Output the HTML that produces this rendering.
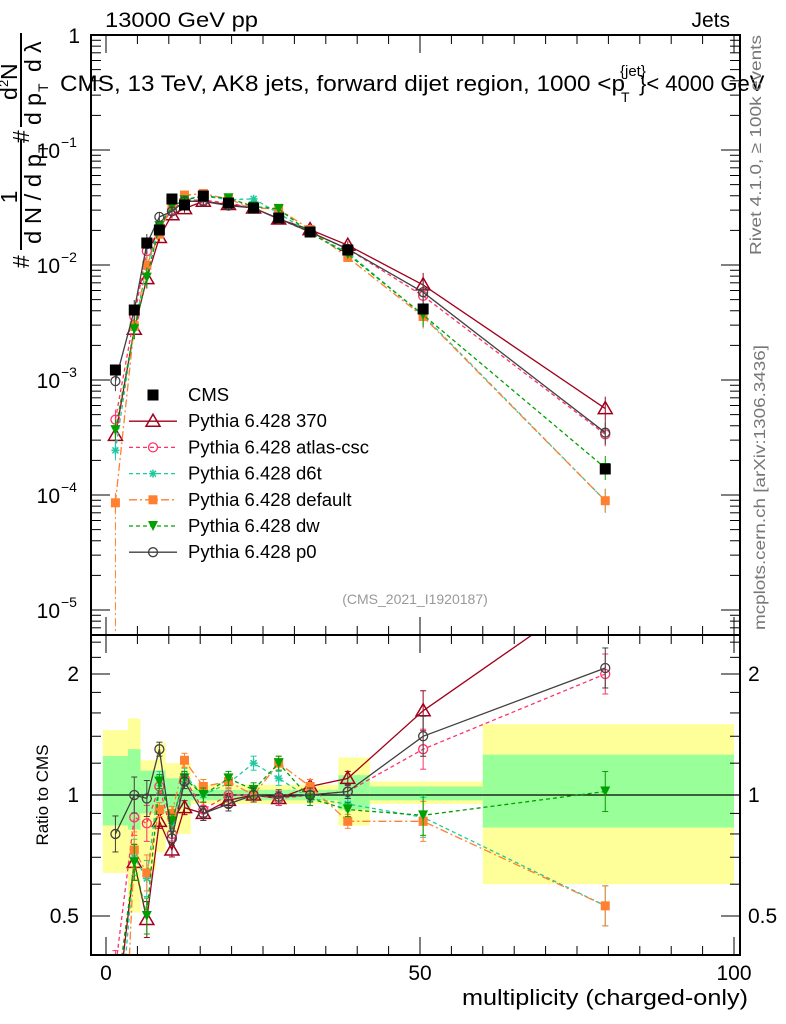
<!DOCTYPE html>
<html><head><meta charset="utf-8"><style>
html,body{margin:0;background:#fff;overflow:hidden;width:786px;height:1024px}
svg{font-family:"Liberation Sans",sans-serif;display:block}
</style></head><body>
<svg id="s" width="786" height="1024" xmlns="http://www.w3.org/2000/svg"></svg>
<script>
const S=document.getElementById('s');let h='';
const X=v=>106+v*6.28;
const YM=v=>35-115*Math.log10(v);
const YR=r=>795-402*Math.log10(r);
const xs=[1.5,4.5,6.5,8.5,10.5,12.5,15.5,19.5,23.5,27.5,32.5,38.5,50.5,79.5];
const cpx=[370,310,243,230,199,205,196,203,208,218,232,250,309,469];
const cms=cpx.map(p=>Math.pow(10,-(p-35)/115));
const models=[
{n:'370',c:'#a0001c',d:'',m:'tri',r:[0.27,0.68,0.49,0.86,0.73,0.93,0.9,0.97,1.0,0.98,1.05,1.1,1.62,3.35]},
{n:'atlas-csc',c:'#ff3366',d:'4,3',m:'circ',r:[0.37,0.88,0.85,1.05,0.8,1.1,0.92,1.0,1.0,0.98,1.0,1.02,1.3,2.0]},
{n:'d6t',c:'#20c8a0',d:'4,3',m:'star',r:[0.2,0.7,0.62,1.1,0.85,1.12,1.0,1.07,1.2,1.1,0.98,0.95,0.88,0.53]},
{n:'default',c:'#ff8030',d:'8,3,2,3',m:'sq',r:[0.07,0.73,0.64,0.92,0.9,1.22,1.05,1.08,1.0,1.2,1.05,0.86,0.86,0.53]},
{n:'dw',c:'#00a000',d:'4,3',m:'tdn',r:[0.3,0.68,0.5,1.08,0.86,1.1,1.0,1.1,1.03,1.2,0.98,0.92,0.89,1.02]},
{n:'p0',c:'#404040',d:'',m:'circ',r:[0.8,1.0,0.98,1.3,0.78,1.08,0.9,0.95,1.0,0.99,1.0,1.02,1.4,2.07]}];
function mk(t,x,y,c){
 if(t=='tri')return `<polygon points="${x},${y-7} ${x-7},${y+5} ${x+7},${y+5}" fill="none" stroke="${c}" stroke-width="1.5"/>`;
 if(t=='circ')return `<circle cx="${x}" cy="${y}" r="4.5" fill="none" stroke="${c}" stroke-width="1.3"/>`;
 if(t=='sq')return `<rect x="${x-4.5}" y="${y-4.5}" width="9" height="9" fill="${c}"/>`;
 if(t=='tdn')return `<polygon points="${x-5},${y-5} ${x+5},${y-5} ${x},${y+5}" fill="${c}"/>`;
 if(t=='star')return `<g stroke="${c}" stroke-width="1.5"><line x1="${x-4}" y1="${y}" x2="${x+4}" y2="${y}"/><line x1="${x}" y1="${y-4}" x2="${x}" y2="${y+4}"/><line x1="${x-3}" y1="${y-3}" x2="${x+3}" y2="${y+3}"/><line x1="${x-3}" y1="${y+3}" x2="${x+3}" y2="${y-3}"/></g>`;
 if(t=='bsq')return `<rect x="${x-5.5}" y="${y-5.5}" width="11" height="11" fill="#000"/>`;}
const bands=[[-0.5,3.5,0.64,1.45,0.84,1.25],[3.5,5.5,0.51,1.55,0.82,1.3],[5.5,8,0.65,1.22,0.9,1.15],[8,9.5,0.72,1.35,0.9,1.15],[9.5,13.5,0.8,1.2,0.93,1.1],[13.5,37,0.95,1.06,0.97,1.03],[37,42,0.84,1.24,0.92,1.12],[42,60,0.95,1.08,0.97,1.05],[60,100,0.6,1.5,0.83,1.26]];
for(const b of bands){h+=`<rect x="${X(b[0])}" y="${YR(b[3])}" width="${X(b[1])-X(b[0])}" height="${YR(b[2])-YR(b[3])}" fill="#ffff99"/>`;
 h+=`<rect x="${X(b[0])}" y="${YR(b[5])}" width="${X(b[1])-X(b[0])}" height="${YR(b[4])-YR(b[5])}" fill="#99ff99"/>`;}
h+=`<line x1="91" y1="795" x2="740" y2="795" stroke="#000" stroke-width="1.2"/>`;
h+=`<defs><clipPath id="cm"><rect x="91" y="35" width="649" height="600"/></clipPath><clipPath id="cr"><rect x="91" y="635" width="649" height="320"/></clipPath></defs>`;
let main='',rat='';
for(const m of models){
 let pm=xs.map((x,i)=>[X(x),YM(cms[i]*m.r[i])]);
 let pr=xs.map((x,i)=>[X(x),YR(m.r[i])]);
 const pl=p=>p.map(q=>q[0].toFixed(1)+','+q[1].toFixed(1)).join(' ');
 main+=`<polyline points="${pl(pm)}" fill="none" stroke="${m.c}" stroke-width="1.3" ${m.d?`stroke-dasharray="${m.d}"`:''}/>`;
 rat+=`<polyline points="${pl(pr)}" fill="none" stroke="${m.c}" stroke-width="1.3" ${m.d?`stroke-dasharray="${m.d}"`:''}/>`;
 pm.forEach((p,i)=>{let e=i<3?10:(i>11?12:4);main+=`<line x1="${p[0]}" y1="${p[1]-e}" x2="${p[0]}" y2="${p[1]+e}" stroke="${m.c}"/>`+mk(m.m,p[0],p[1],m.c);});
 pr.forEach((p,i)=>{let e=i<3?18:(i>11?20:7);rat+=`<line x1="${p[0]}" y1="${p[1]-e}" x2="${p[0]}" y2="${p[1]+e}" stroke="${m.c}"/><line x1="${p[0]-3}" y1="${p[1]-e}" x2="${p[0]+3}" y2="${p[1]-e}" stroke="${m.c}"/><line x1="${p[0]-3}" y1="${p[1]+e}" x2="${p[0]+3}" y2="${p[1]+e}" stroke="${m.c}"/>`+mk(m.m,p[0],p[1],m.c);});
}
main+=`<line x1="${X(1.5)}" y1="${YM(8e-5)}" x2="${X(1.5)}" y2="635" stroke="#ff8030" stroke-dasharray="8,3,2,3"/>`;
xs.forEach((x,i)=>{main+=mk('bsq',X(x),YM(cms[i]));});
h+=`<g clip-path="url(#cm)">${main}</g><g clip-path="url(#cr)">${rat}</g>`;
h+=`<rect x="91" y="35" width="649" height="600" fill="none" stroke="#000" stroke-width="2"/>`;
h+=`<rect x="91" y="635" width="649" height="320" fill="none" stroke="#000" stroke-width="2"/>`;
for(let d=0;d>=-5;d--){let y=YM(Math.pow(10,d));h+=`<line x1="91" y1="${y}" x2="110" y2="${y}" stroke="#000"/><line x1="721" y1="${y}" x2="740" y2="${y}" stroke="#000"/>`;
 for(let k=2;k<10;k++){let yy=YM(k*Math.pow(10,d-1));if(yy<=635&&yy>35)h+=`<line x1="91" y1="${yy}" x2="101" y2="${yy}" stroke="#000"/><line x1="730" y1="${yy}" x2="740" y2="${yy}" stroke="#000"/>`;}}
h+=`<text x="80" y="43" font-size="21" text-anchor="end">1</text>`;
for(let d=1;d<=5;d++){let y=YM(Math.pow(10,-d));h+=`<text x="60" y="${y+8}" font-size="21" text-anchor="end">10</text><text x="61" y="${y-3}" font-size="14">−${d}</text>`;}
for(const r of [0.4,0.5,0.6,0.7,0.8,0.9,1,1.2,1.4,1.6,1.8,2,2.2,2.4]){let y=YR(r);if(y<636||y>955)continue;let big=(r==0.5||r==1||r==2);let L=big?19:10;
 h+=`<line x1="91" y1="${y}" x2="${91+L}" y2="${y}" stroke="#000"/><line x1="${740-L}" y1="${y}" x2="740" y2="${y}" stroke="#000"/>`;}
[[0.5,'0.5'],[1,'1'],[2,'2']].forEach(a=>{let y=YR(a[0])+7;h+=`<text x="79" y="${y}" font-size="21" text-anchor="end">${a[1]}</text><text x="748" y="${y}" font-size="21">${a[1]}</text>`;});
for(let v=0;v<=100;v+=5){let x=X(v),L=v%50==0?18:9;
 h+=`<line x1="${x}" y1="${955-L}" x2="${x}" y2="955" stroke="#000"/><line x1="${x}" y1="635" x2="${x}" y2="${635+L}" stroke="#000"/><line x1="${x}" y1="${635-L}" x2="${x}" y2="635" stroke="#000"/><line x1="${x}" y1="35" x2="${x}" y2="${35+L}" stroke="#000"/>`;}
[0,50,100].forEach(v=>h+=`<text x="${X(v)}" y="980" font-size="21" text-anchor="middle">${v}</text>`);
h+=`<text x="462" y="1005" font-size="22" textLength="286" lengthAdjust="spacingAndGlyphs">multiplicity (charged-only)</text>`;
h+=`<text x="48" y="795" font-size="17" text-anchor="middle" transform="rotate(-90 48 795)">Ratio to CMS</text>`;
h+=`<text x="105" y="27" font-size="21" textLength="153" lengthAdjust="spacingAndGlyphs">13000 GeV pp</text><text x="730" y="27" font-size="21" text-anchor="end">Jets</text>`;
h+=`<text x="60" y="91" font-size="22" textLength="565" lengthAdjust="spacingAndGlyphs">CMS, 13 TeV, AK8 jets, forward dijet region, 1000 &lt;p</text><text x="620" y="76" font-size="15">{jet}</text><text x="621" y="102" font-size="14">T</text><text x="639" y="91" font-size="22">}&lt; 4000 GeV</text>`;
h+=`<text x="415" y="604" font-size="14" fill="#999" text-anchor="middle">(CMS_2021_I1920187)</text>`;
h+=`<text x="761" y="255" font-size="16" fill="#777" textLength="220" lengthAdjust="spacingAndGlyphs" transform="rotate(-90 761 255)">Rivet 4.1.0, ≥ 100k events</text>`;
h+=`<text x="765" y="630" font-size="16" fill="#777" textLength="285" lengthAdjust="spacingAndGlyphs" transform="rotate(-90 765 630)">mcplots.cern.ch [arXiv:1306.3436]</text>`;
h+=`<g transform="rotate(-90)" font-size="23">
<text x="-197" y="17" text-anchor="middle">1</text>
<line x1="-250" y1="21" x2="-140" y2="21" stroke="#000" stroke-width="2"/>
<text x="-244" y="41" textLength="90" lengthAdjust="spacingAndGlyphs">d N / d p</text><text x="-153" y="48" font-size="14">T</text>
<text x="-268" y="29">#</text><text x="-143" y="29">#</text>
<line x1="-127" y1="21" x2="-33" y2="21" stroke="#000" stroke-width="2"/>
<text x="-100" y="17">d</text><text x="-87" y="8" font-size="13">2</text><text x="-80" y="17">N</text>
<text x="-125" y="41">d p</text><text x="-92" y="48" font-size="14">T</text><text x="-72" y="41">d λ</text>
</g>`;
const L=[['CMS','#000','','bsq'],...models.map(m=>['Pythia 6.428 '+m.n,m.c,m.d,m.m])];
L.forEach((l,i)=>{let y=395+i*26.2;if(i>0)h+=`<line x1="129" y1="${y}" x2="177" y2="${y}" stroke="${l[1]}" stroke-width="1.3" ${l[2]?`stroke-dasharray="${l[2]}"`:''}/>`;
 h+=mk(l[3],153,y,l[1])+`<text x="188" y="${y+6}" font-size="18.5">${l[0]}</text>`;});
S.innerHTML=h;
</script>
</body></html>
